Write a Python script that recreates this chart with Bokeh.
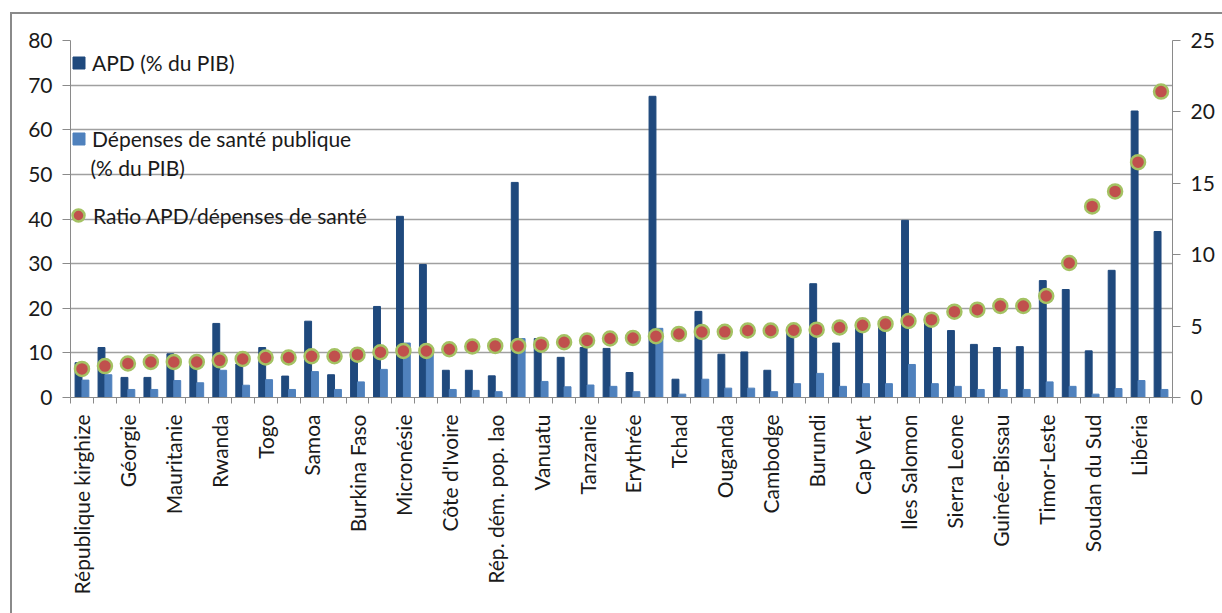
import numpy as np
from bokeh.plotting import figure
from bokeh.models import (Range1d, LinearAxis, FixedTicker, Legend, LegendItem, Label)
from bokeh.embed import file_html
from bokeh.resources import INLINE

# ---------------- data ----------------
tick_labels = ["République kirghize", "Géorgie", "Mauritanie", "Rwanda", "Togo", "Samoa",
               "Burkina Faso", "Micronésie", "Côte d'Ivoire", "Rép. dém. pop. lao", "Vanuatu",
               "Tanzanie", "Erythrée", "Tchad", "Ouganda", "Cambodge", "Burundi", "Cap Vert",
               "Iles Salomon", "Sierra Leone", "Guinée-Bissau", "Timor-Leste", "Soudan du Sud",
               "Libéria"]

apd = [7.8, 11.2, 4.5, 4.5, 9.8, 8.0, 16.6, 7.5, 11.2, 4.8, 17.1, 5.1, 9.5, 20.4, 40.6, 29.8,
       6.1, 6.1, 4.85, 48.2, 13.2, 9.0, 11.2, 11.0, 5.6, 67.5, 4.1, 19.3, 9.7, 10.2, 6.1, 15.0,
       25.5, 12.2, 16.0, 16.5, 39.7, 17.5, 15.0, 11.9, 11.2, 11.4, 26.2, 24.2, 10.45, 28.5,
       64.2, 37.2]

sante = [3.9, 5.1, 1.8, 1.8, 3.8, 3.3, 6.1, 2.75, 4.0, 1.8, 5.8, 1.8, 3.5, 6.3, 12.2, 10.0,
         1.8, 1.6, 1.3, 13.2, 3.6, 2.4, 2.8, 2.5, 1.3, 15.5, 0.75, 4.1, 2.1, 2.1, 1.3, 3.1,
         5.4, 2.5, 3.1, 3.1, 7.4, 3.1, 2.5, 1.8, 1.8, 1.8, 3.5, 2.5, 0.75, 2.0, 3.8, 1.8]

ratio = [2.0, 2.2, 2.38, 2.49, 2.49, 2.49, 2.6, 2.7, 2.8, 2.8, 2.89, 2.89, 3.0, 3.17, 3.26,
         3.26, 3.38, 3.57, 3.61, 3.61, 3.7, 3.87, 3.99, 4.13, 4.17, 4.29, 4.45, 4.59, 4.6,
         4.69, 4.69, 4.71, 4.75, 4.9, 5.06, 5.15, 5.36, 5.45, 6.01, 6.15, 6.41, 6.41, 7.11,
         9.42, 13.38, 14.43, 16.48, 21.42]

left_ticks = [0, 10, 20, 30, 40, 50, 60, 70, 80]
right_ticks = [0, 5, 10, 15, 20, 25]

# ---------------- figure ----------------
n = len(apd)
idx = np.arange(n)
FONT = "Lato"
TXT = "21px"
GRAY = "#8a8a8a"
INK = "#1a1a1a"

p = figure(frame_width=1102, frame_height=357, output_backend="svg", toolbar_location=None,
           x_range=Range1d(-0.5, n - 0.5), y_range=Range1d(0, 80),
           min_border_left=58, min_border_right=50, min_border_top=26, min_border_bottom=216,
           background_fill_color="white", border_fill_color="white", outline_line_color=None)
p.extra_y_ranges = {"ratio": Range1d(0, 25)}
p.margin = (12, 0, 0, 10)
p.styles = {"border-left": "2px solid #8a8a8a", "border-top": "2px solid #8a8a8a"}

r_apd = p.vbar(x=idx - 0.15, top=apd, width=0.3, color="#1F497D")
r_sante = p.vbar(x=idx + 0.15, top=sante, width=0.3, color="#4F81BD")
r_ratio = p.scatter(x=idx, y=ratio, y_range_name="ratio", size=14, fill_color="#C0504D",
                    line_color="#A4C263", line_width=2.5)

# grid
p.xgrid.visible = False
p.ygrid.ticker = FixedTicker(ticks=left_ticks)
p.ygrid.grid_line_color = "#a0a0a0"
p.ygrid.grid_line_width = 1.5

# left axis
ya = p.yaxis[0]
ya.ticker = FixedTicker(ticks=left_ticks)
ya.axis_line_color = GRAY
ya.major_tick_line_color = GRAY
ya.major_tick_out = 8
ya.major_tick_in = 0
ya.minor_tick_line_color = None
ya.major_label_standoff = 10
ya.major_label_text_font = FONT
ya.major_label_text_font_size = TXT
ya.major_label_text_color = INK

# right axis
ra = LinearAxis(y_range_name="ratio", ticker=FixedTicker(ticks=right_ticks))
ra.axis_line_color = GRAY
ra.major_tick_line_color = GRAY
ra.major_tick_out = 8
ra.major_tick_in = 0
ra.minor_tick_line_color = None
ra.major_label_standoff = 10
ra.major_label_text_font = FONT
ra.major_label_text_font_size = TXT
ra.major_label_text_color = INK
p.add_layout(ra, "right")

# bottom axis: labels at every other category, tick marks at category boundaries
xa = p.xaxis[0]
label_pos = list(range(0, n, 2))
xa.ticker = FixedTicker(ticks=label_pos, minor_ticks=[i - 0.5 for i in range(n + 1)])
xa.major_label_overrides = {pos: lab for pos, lab in zip(label_pos, tick_labels)}
xa.major_label_orientation = np.pi / 2
xa.major_tick_out = 0
xa.major_tick_in = 0
xa.minor_tick_out = 6
xa.minor_tick_in = 0
xa.minor_tick_line_color = GRAY
xa.axis_line_color = GRAY
xa.major_label_standoff = 11
xa.major_label_text_font = FONT
xa.major_label_text_font_size = TXT
xa.major_label_text_color = INK

# legends
leg1 = Legend(items=[LegendItem(label="APD (% du PIB)", renderers=[r_apd]),
                     LegendItem(label="Dépenses de santé publique", renderers=[r_sante])],
              location=(1, 246), glyph_width=15, glyph_height=15, label_height=26,
              spacing=50, padding=0, margin=0, label_standoff=6,
              background_fill_alpha=0, border_line_color=None,
              label_text_font=FONT, label_text_font_size=TXT, label_text_color=INK)
leg2 = Legend(items=[LegendItem(label="Ratio APD/dépenses de santé", renderers=[r_ratio])],
              location=(-7, 167), glyph_width=30, glyph_height=30, label_height=30,
              padding=0, margin=0, label_standoff=0,
              background_fill_alpha=0, border_line_color=None,
              label_text_font=FONT, label_text_font_size=TXT, label_text_color=INK)
p.add_layout(leg1)
p.add_layout(leg2)
p.add_layout(Label(x=(90 - 70) / 22.96 - 0.5, y=51.6, text="(% du PIB)",
                   text_font=FONT, text_font_size=TXT, text_color=INK,
                   text_baseline="middle"))

open("out.html", "w").write(file_html(p, INLINE))
